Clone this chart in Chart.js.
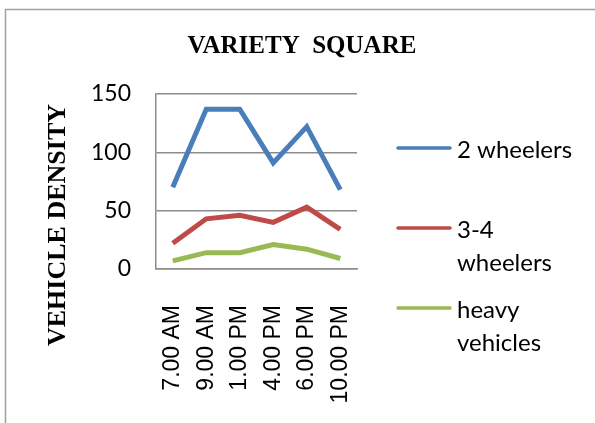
<!DOCTYPE html>
<html>
<head>
<meta charset="utf-8">
<script src="https://cdn.jsdelivr.net/npm/chart.js@4.4.1/dist/chart.umd.min.js"></script>
<style>
html, body { margin: 0; padding: 0; background: #fff; }
canvas { display: block; }
</style>
</head>
<body>
<canvas id="densityChart" width="595" height="423"></canvas>
<script>
// time slots (x axis)
var timeLabels = ['7.00 AM', '9.00 AM', '1.00 PM', '4.00 PM', '6.00 PM', '10.00 PM'];

// vehicle density per time slot
var twoWheelers = [70, 137, 137, 91, 122, 68];
var threeFourWheelers = [22, 43, 46, 40, 53, 34];
var heavyVehicles = [7, 14, 14, 21, 17, 9];

// y axis ticks
var yTicks = [0, 50, 100, 150];

// legend text, wrapped like the original
var seriesNames = [['2 wheelers'], ['3-4', 'wheelers'], ['heavy', 'vehicles']];
var seriesColors = ['#4A7EBB', '#BE4B48', '#98B954'];

var chartTitle = 'VARIETY  SQUARE';
var yTitle = 'VEHICLE DENSITY';

var GRID_COLOR = '#8c8c8c';
var LABEL_FONT = 'Lato';

// frame, title, y title and the wrapped legend
var decorPlugin = {
    id: 'decor',
    beforeDraw: function(chart) {
        var ctx = chart.ctx;
        ctx.save();
        ctx.strokeStyle = '#a0a0a0';
        ctx.lineWidth = 1.5;
        ctx.beginPath();
        ctx.moveTo(5.5, chart.height);
        ctx.lineTo(5.5, 9.5);
        ctx.lineTo(chart.width, 9.5);
        ctx.stroke();
        ctx.restore();
    },
    afterDraw: function(chart) {
        var ctx = chart.ctx;
        ctx.save();
        ctx.fillStyle = '#000';
        ctx.textBaseline = 'alphabetic';

        // chart title
        ctx.font = 'bold 25px "Liberation Serif"';
        ctx.textAlign = 'center';
        ctx.fillText(chartTitle, 302, 53);

        // y axis title, rotated
        ctx.save();
        ctx.translate(65, 225);
        ctx.rotate(-Math.PI / 2);
        ctx.font = 'bold 26px "Liberation Serif"';
        ctx.fillText(yTitle, 0, 0);
        ctx.restore();

        // legend
        var lineYs = [148, 228, 308];
        ctx.font = '24px ' + LABEL_FONT;
        ctx.textAlign = 'left';
        ctx.lineWidth = 3.5;
        ctx.lineCap = 'round';
        for (var i = 0; i < seriesNames.length; i++) {
            var y = lineYs[i];
            ctx.strokeStyle = seriesColors[i];
            ctx.beginPath();
            ctx.moveTo(398, y);
            ctx.lineTo(450, y);
            ctx.stroke();
            for (var j = 0; j < seriesNames[i].length; j++) {
                ctx.fillText(seriesNames[i][j], 457, y + 10 + j * 33);
            }
        }
        ctx.restore();
    }
};

function makeSeries(label, data, color) {
    return {
        label: label,
        data: data,
        borderColor: color,
        backgroundColor: color,
        borderWidth: 5,
        pointRadius: 0,
        tension: 0,
        fill: false
    };
}

var ctx = document.getElementById('densityChart').getContext('2d');
new Chart(ctx, {
    type: 'line',
    data: {
        labels: timeLabels,
        datasets: [
            makeSeries(seriesNames[0].join(' '), twoWheelers, seriesColors[0]),
            makeSeries(seriesNames[1].join(' '), threeFourWheelers, seriesColors[1]),
            makeSeries(seriesNames[2].join(' '), heavyVehicles, seriesColors[2])
        ]
    },
    options: {
        responsive: false,
        animation: false,
        devicePixelRatio: 1,
        layout: { padding: { left: 0, top: 94, right: 238, bottom: 0 } },
        plugins: {
            legend: { display: false },
            title: { display: false },
            tooltip: { enabled: false }
        },
        scales: {
            x: {
                offset: true,
                grid: { display: false },
                border: { display: true, color: GRID_COLOR, width: 1.5 },
                ticks: {
                    autoSkip: false,
                    minRotation: 90,
                    maxRotation: 90,
                    padding: 28,
                    color: '#000',
                    font: { family: 'Liberation Sans', size: 23 }
                },
                afterFit: function(scale) { scale.height = 154; }
            },
            y: {
                min: yTicks[0],
                max: yTicks[yTicks.length - 1],
                afterBuildTicks: function(scale) {
                    scale.ticks = yTicks.map(function(v) { return { value: v }; });
                },
                grid: { color: GRID_COLOR, lineWidth: 1.5, drawTicks: false },
                border: { display: true, color: GRID_COLOR, width: 1.5 },
                ticks: {
                    padding: 25,
                    color: '#000',
                    font: { family: LABEL_FONT, size: 23 }
                },
                afterFit: function(scale) { scale.width = 156; }
            }
        }
    },
    plugins: [decorPlugin]
});
</script>
</body>
</html>
